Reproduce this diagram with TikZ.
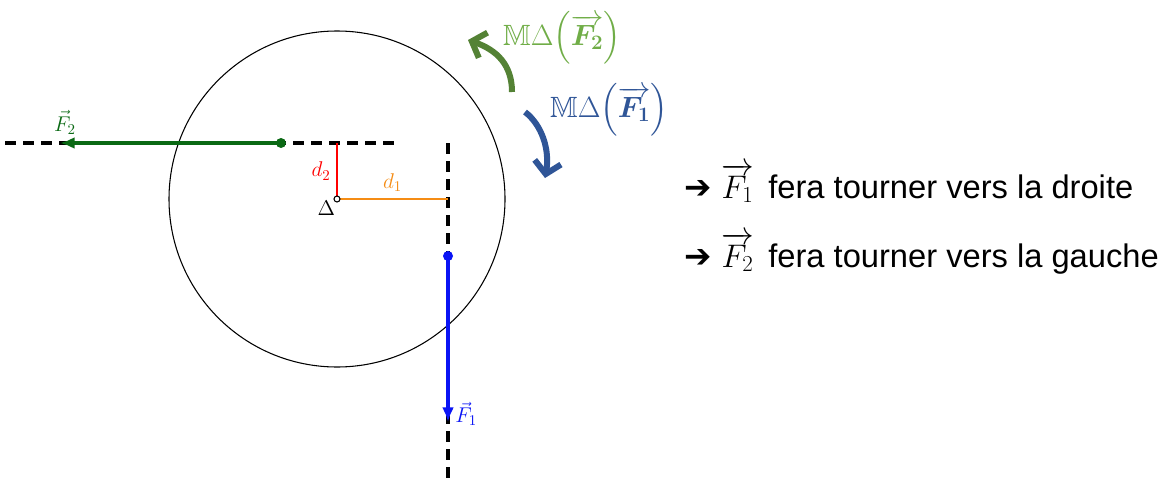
\documentclass[tikz,border=0pt]{standalone}
\usepackage{fix-cm}
\usepackage{amsmath, amssymb, bm}
\usepackage{fontspec}
\setsansfont{Liberation Sans}
\newfontfamily\symfont{DejaVu Sans}
\usetikzlibrary{arrows.meta,positioning}
\definecolor{ForceGreen}{RGB}{10, 105, 20}
\definecolor{ForceBlue}{RGB}{10, 20, 245}
\definecolor{MomGreen}{RGB}{84, 130, 53}
\definecolor{MomGreenTxt}{RGB}{112, 173, 71}
\definecolor{MomBlue}{RGB}{47, 85, 151}
\definecolor{DistOrange}{RGB}{245, 140, 20}

\tikzset{
  axisline/.style={line width=2.4pt, dash pattern=on 8.5pt off 5pt},
  force/.style={line width=3pt, -{Latex[length=11pt,width=9pt]}},
  moment/.style={line width=4.5pt, -{Straight Barb[length=9pt,width=20pt]}},
  lbl/.style={font=\fontsize{16}{19}\selectfont},
  biglbl/.style={font=\fontsize{22}{26}\selectfont},
  txt/.style={anchor=base west, font=\sffamily\fontsize{24.5}{29}\selectfont}
}

\begin{document}
\begin{tikzpicture}[x=0.75pt, y=-0.75pt]
    \useasboundingbox (0,0) rectangle (1166,478);

    % Disc and pivot
    \coordinate (O) at (337,199);
    \draw[line width=0.8pt] (O) circle (168);

    % Lines of action
    \coordinate (L2a) at (5,143);
    \coordinate (L2b) at (395,143);
    \coordinate (L1a) at (448,143);
    \coordinate (L1b) at (448,478);
    \draw[axisline] (L2a) -- (L2b);
    \draw[axisline] (L1a) -- (L1b);

    % Lever arms
    \coordinate (H2) at (337,143);
    \coordinate (H1) at (448,199);
    \draw[red, line width=1pt] (O) -- (H2) node[lbl, midway, left=1pt] {$d_2$};
    \draw[DistOrange, line width=1pt] (O) -- (H1) node[lbl, midway, above=2pt] {$d_1$};
    \draw[line width=0.8pt, fill=white] (O) circle (3);
    \node[lbl, below left=-2pt and -2pt of O] (delta) {$\Delta$};

    % Forces
    \coordinate (A2) at (281,143);
    \coordinate (B2) at (60,143);
    \coordinate (A1) at (448,256);
    \coordinate (B1) at (448,422);
    \draw[force, ForceGreen] (A2) -- (B2);
    \fill[ForceGreen] (A2) circle (5);
    \node[lbl, ForceGreen, above right=3pt and -8pt of B2] (f2) {$\vec{F}_2$};
    \draw[force, ForceBlue] (A1) -- (B1);
    \fill[ForceBlue] (A1) circle (5);
    \node[lbl, ForceBlue, right=2pt of B1, yshift=6pt] (f1) {$\vec{F}_1$};

    % Moments
    \coordinate (M2a) at (512,92);
    \coordinate (M2b) at (468,40);
    \coordinate (M1a) at (525,112);
    \coordinate (M1b) at (545,178);
    \draw[moment, MomGreen] (M2a) .. controls (512,65) and (497,50) .. (M2b);
    \draw[moment, MomBlue] (M1a) .. controls (542,125) and (550,150) .. (M1b);
    \node[biglbl, MomGreenTxt] (m2) at (562,38) {$\mathbb{M}\Delta\Bigl(\overrightarrow{\bm{F_2}}\Bigr)$};
    \node[biglbl, MomBlue] (m1) at (609,110) {$\mathbb{M}\Delta\Bigl(\overrightarrow{\bm{F_1}}\Bigr)$};

    % Conclusions
    \node[txt] (c1) at (680,198) {{\symfont\char"2794} $\overrightarrow{F_1}$\, fera tourner vers la droite};
    \node[txt] (c2) at (680,267) {{\symfont\char"2794} $\overrightarrow{F_2}$\, fera tourner vers la gauche};
  \end{tikzpicture}
\end{document}
